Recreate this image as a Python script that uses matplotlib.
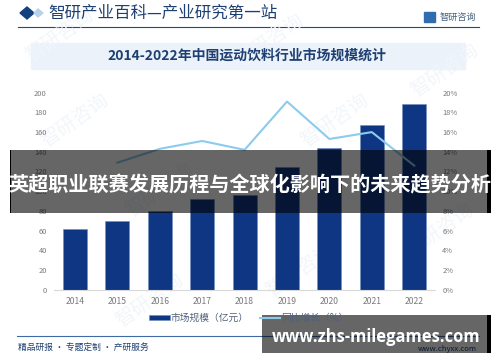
import matplotlib.pyplot as plt
from matplotlib.patches import Polygon, Rectangle

plt.rcParams['font.family'] = ['Noto Sans CJK SC', 'DejaVu Sans']

years = ["2014", "2015", "2016", "2017", "2018", "2019", "2020", "2021", "2022"]
market_size = [61.5, 69.5, 80, 92, 96, 125, 144, 167, 188.5]
growth_years = years[1:]
growth = [12.9, 14.3, 15.1, 14.2, 19.1, 15.3, 16.0, 12.6]
left_ticks = [0, 20, 40, 60, 80, 100, 120, 140, 160, 180, 200]
right_ticks = [0, 2, 4, 6, 8, 10, 12, 14, 16, 18, 20]

W, H = 500, 362
NAVY = "#0f3683"
SKY = "#8ccbee"
GREY = "#7a7a7a"
HEAD = "#1d3f72"

fig = plt.figure(figsize=(W / 100, H / 100), dpi=100, facecolor="white")

# page furniture, in pixel coordinates
bg = fig.add_axes([0, 0, 1, 1], zorder=0)
bg.set_xlim(0, W)
bg.set_ylim(H, 0)
bg.axis("off")

for x, y in [(75, 120), (160, 190), (270, 40), (335, 120), (150, 300), (300, 270), (440, 230), (60, 35), (445, 70)]:
    bg.text(x, y, "智研咨询", fontsize=14, color="#f2f6fa", rotation=35, ha="center", va="center")

bg.add_patch(Polygon([(20, 13), (27, 7), (34, 13), (27, 19)], color="#14407f"))
bg.add_patch(Polygon([(34, 13), (38, 9), (43, 13), (38, 17)], color="#b9d2ea"))
bg.text(48, 13.5, "智研产业百科—产业研究第一站", fontsize=11.9, color=HEAD, va="center")
bg.plot([18, 479], [27, 27], color="#24497f", lw=0.8)
bg.add_patch(Rectangle((424, 12), 11, 10, color="#2f6db0"))
bg.text(440, 17.5, "智研咨询", fontsize=6.6, color="#45607f", va="center")
bg.add_patch(Rectangle((31, 43), 434, 26, color="#ebf2fa"))
bg.text(247, 56, "2014-2022年中国运动饮料行业市场规模统计", fontsize=10, fontweight="bold",
        color=HEAD, ha="center", va="center")

bg.plot([17, 479], [336, 336], color="#3f6aa3", lw=0.8)
bg.text(18, 347, "精品研报 · 专题定制 · 产研服务", fontsize=6.3, color=HEAD, va="center")
bg.text(477, 349, "www.chyxx.com", fontsize=5.6, color=HEAD, ha="right", va="center")

# chart
ax = fig.add_axes([53.8 / W, 1 - 289.7 / H, 381.6 / W, 197 / H], zorder=1)
ax.patch.set_alpha(0)
bars = ax.bar(years, market_size, width=0.57, color=NAVY, edgecolor="#6f8fc0", linewidth=0.4,
              label="市场规模（亿元）")
ax.set_xlim(-0.5, 8.5)
ax.set_ylim(0, 200)
ax.set_yticks(left_ticks)
ax.tick_params(axis="y", length=0, labelsize=5.4, labelcolor=GREY, pad=5)
ax.tick_params(axis="x", length=0, labelsize=6.2, labelcolor=GREY, pad=5)
for side in ["top", "left", "right"]:
    ax.spines[side].set_visible(False)
ax.spines["bottom"].set_color("#d9d9d9")
ax.spines["bottom"].set_linewidth(0.8)

ax2 = ax.twinx()
ax2.patch.set_alpha(0)
line, = ax2.plot(growth_years, growth, color=SKY, lw=1.5, label="同比增长（%）")
ax2.set_ylim(0, 20)
ax2.set_yticks(right_ticks)
ax2.set_yticklabels([str(t) + "%" for t in right_ticks])
ax2.tick_params(axis="y", length=0, labelsize=5.4, labelcolor=GREY, pad=5)
for side in ["top", "left", "right", "bottom"]:
    ax2.spines[side].set_visible(False)

fig.legend(handles=[bars, line], ncol=2, loc="center", bbox_to_anchor=(249 / W, 1 - 318 / H),
           frameon=False, fontsize=7, labelcolor="#50607a", handlelength=2.1, handleheight=0.3,
           handletextpad=0.15, columnspacing=1.1)

# the banners pasted over the picture
top = fig.add_axes([0, 0, 1, 1], zorder=3)
top.set_xlim(0, W)
top.set_ylim(H, 0)
top.axis("off")
top.patch.set_alpha(0)

top.add_patch(Rectangle((10, 150), 477, 63, color="black", alpha=0.6, lw=0))
top.add_patch(Rectangle((10, 150), 1, 63, color="black", lw=0))
top.add_patch(Rectangle((487, 150), 4, 63, color="black", lw=0))
top.text(250, 185, "英超职业联赛发展历程与全球化影响下的未来趋势分析", fontsize=14.5, fontweight="bold",
         color="white", ha="center", va="center")

top.add_patch(Rectangle((262, 315), 225, 38, color="black", alpha=0.6, lw=0))
top.add_patch(Rectangle((487, 315), 4, 38, color="black", lw=0))
top.text(376, 337, "www.zhs-milegames.com", fontsize=11.9, fontweight="bold", color="white",
         family="Open Sans", ha="center", va="center")

fig.savefig("out.png", dpi=100)
